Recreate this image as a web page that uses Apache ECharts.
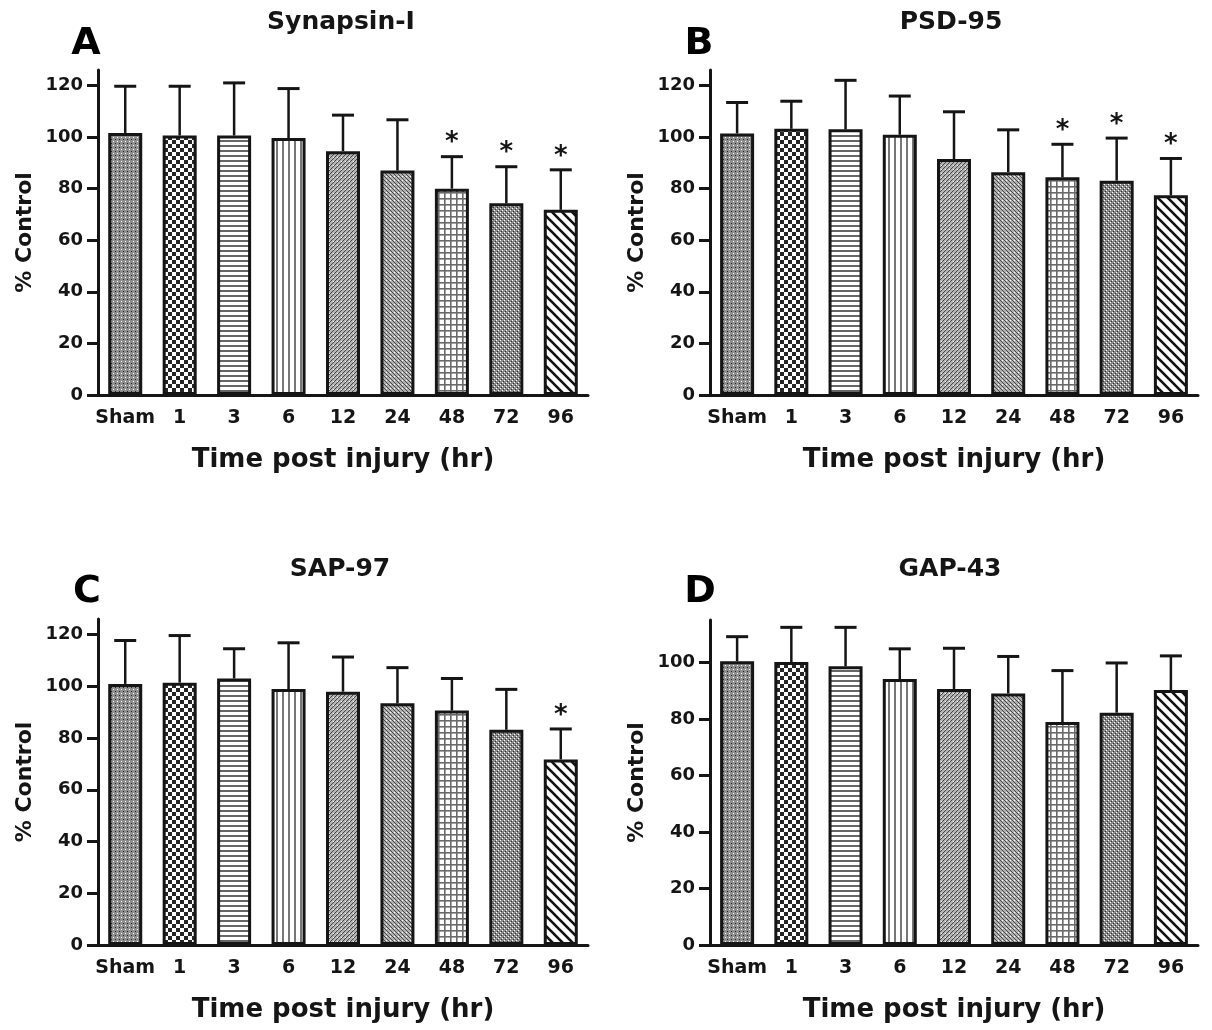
<!DOCTYPE html>
<html>
<head>
<meta charset="utf-8">
<script src="https://cdn.jsdelivr.net/npm/echarts@6/dist/echarts.min.js"></script>
<style>
  html, body { margin: 0; padding: 0; background: #fff; }
  #chart { width: 1212px; height: 1030px; }
</style>
</head>
<body>
<div id="chart"></div>
<script>
// categories (hours after injury)
const categories = ['Sham', '1', '3', '6', '12', '24', '48', '72', '96'];

// % control, mean and upper error (+SD)
const synapsinMean = [101.6, 100.6, 100.6, 99.6, 94.5, 87.0, 80.0, 74.3, 71.8];
const synapsinErr = [18.1, 19.1, 20.4, 19.2, 14.0, 19.7, 12.4, 14.2, 15.5];
const synapsinStar = [0, 0, 0, 0, 0, 0, 1, 1, 1];

const psdMean = [101.4, 103.2, 103.0, 100.9, 91.5, 86.4, 84.4, 83.1, 77.4];
const psdErr = [12.0, 10.7, 19.0, 15.0, 18.3, 16.4, 12.8, 16.5, 14.3];
const psdStar = [0, 0, 0, 0, 0, 0, 1, 1, 1];

const sapMean = [100.9, 101.4, 103.0, 98.9, 97.9, 93.4, 90.6, 83.2, 71.7];
const sapErr = [16.8, 18.2, 11.5, 17.9, 13.4, 13.8, 12.4, 15.6, 11.8];
const sapStar = [0, 0, 0, 0, 0, 0, 0, 0, 1];

const gapMean = [100.4, 100.1, 98.6, 94.1, 90.6, 89.0, 78.9, 82.2, 90.2];
const gapErr = [8.7, 12.3, 13.8, 10.7, 14.4, 13.1, 18.2, 17.6, 12.1];
const gapStar = [0, 0, 0, 0, 0, 0, 0, 0, 0];

const ticksTo120 = [0, 20, 40, 60, 80, 100, 120];
const ticksTo100 = [0, 20, 40, 60, 80, 100];

const FONT = 'DejaVu Sans';
const INK = '#151515';

// fill patterns, one per time point
function tile(w, h, draw) {
    const c = document.createElement('canvas');
    c.width = w;
    c.height = h;
    draw(c.getContext('2d'));
    return { image: c, repeat: 'repeat' };
}

const patterns = [
    tile(4, 4, (g) => { // sham: dense grey dots
        g.fillStyle = '#8e8e8e'; g.fillRect(0, 0, 4, 4);
        g.fillStyle = '#ffffff'; g.fillRect(1, 1, 1, 1);
        g.fillStyle = '#222'; g.fillRect(3, 3, 1, 1);
    }),
    tile(8, 8, (g) => { // checkerboard
        g.fillStyle = '#fff'; g.fillRect(0, 0, 8, 8);
        g.fillStyle = '#262626'; g.fillRect(0, 0, 4, 4); g.fillRect(4, 4, 4, 4);
    }),
    tile(5, 5, (g) => { // horizontal lines
        g.fillStyle = '#fff'; g.fillRect(0, 0, 5, 5);
        g.fillStyle = '#666'; g.fillRect(0, 0, 5, 2);
    }),
    tile(6, 6, (g) => { // vertical lines
        g.fillStyle = '#fff'; g.fillRect(0, 0, 6, 6);
        g.fillStyle = '#777'; g.fillRect(0, 0, 2, 6);
    }),
    tile(4, 4, (g) => { // fine "/" hatch
        g.fillStyle = '#b4b4b4'; g.fillRect(0, 0, 4, 4);
        g.fillStyle = '#444';
        for (let i = 0; i < 4; i++) g.fillRect(i, 3 - i, 1, 1);
        g.fillStyle = '#fff'; g.fillRect(1, 1, 1, 1);
    }),
    tile(4, 4, (g) => { // fine "\" hatch
        g.fillStyle = '#b0b0b0'; g.fillRect(0, 0, 4, 4);
        g.fillStyle = '#444';
        for (let i = 0; i < 4; i++) g.fillRect(i, i, 1, 1);
        g.fillStyle = '#fff'; g.fillRect(2, 0, 1, 1);
    }),
    tile(6, 6, (g) => { // grid
        g.fillStyle = '#fff'; g.fillRect(0, 0, 6, 6);
        g.fillStyle = '#6a6a6a'; g.fillRect(0, 0, 6, 1.6); g.fillRect(0, 0, 1.6, 6);
    }),
    tile(4, 4, (g) => { // mottled crosshatch
        g.fillStyle = '#8a8a8a'; g.fillRect(0, 0, 4, 4);
        g.fillStyle = '#fff'; g.fillRect(0, 0, 1, 1); g.fillRect(2, 2, 1, 1);
        g.fillStyle = '#333'; g.fillRect(1, 3, 1, 1); g.fillRect(3, 1, 1, 1);
    }),
    tile(10, 10, (g) => { // wide "\" stripes
        g.fillStyle = '#fff'; g.fillRect(0, 0, 10, 10);
        g.strokeStyle = '#111'; g.lineWidth = 2.6;
        [-10, 0, 10].forEach((d) => {
            g.beginPath(); g.moveTo(d - 2, -2); g.lineTo(d + 12, 12); g.stroke();
        });
    })
];

const panels = [
    { name: 'Synapsin-I', letter: 'A', mean: synapsinMean, err: synapsinErr, star: synapsinStar,
      grid: { left: 98, top: 70, width: 490, height: 325 }, max: 126, ticks: ticksTo120,
      title: [341, 22], tag: [86, 44] },
    { name: 'PSD-95', letter: 'B', mean: psdMean, err: psdErr, star: psdStar,
      grid: { left: 710, top: 70, width: 488, height: 325 }, max: 126, ticks: ticksTo120,
      title: [951, 22], tag: [699, 44] },
    { name: 'SAP-97', letter: 'C', mean: sapMean, err: sapErr, star: sapStar,
      grid: { left: 98, top: 619, width: 490, height: 326 }, max: 126, ticks: ticksTo120,
      title: [340, 569], tag: [87, 592] },
    { name: 'GAP-43', letter: 'D', mean: gapMean, err: gapErr, star: gapStar,
      grid: { left: 710, top: 620, width: 488, height: 325 }, max: 115, ticks: ticksTo100,
      title: [950, 569], tag: [700, 592] }
];

// upper error bar with cap, plus a star when significant
function renderError(params, api) {
    const i = api.value(0);
    const mean = api.value(1);
    const err = api.value(2);
    const base = api.coord([i, mean]);
    const top = api.coord([i, mean + err]);
    const half = 11;
    const children = [
        { type: 'line', shape: { x1: base[0], y1: base[1], x2: top[0], y2: top[1] },
          style: { stroke: INK, lineWidth: 2.5 } },
        { type: 'line', shape: { x1: top[0] - half, y1: top[1], x2: top[0] + half, y2: top[1] },
          style: { stroke: INK, lineWidth: 3 } }
    ];
    if (api.value(3)) {
        children.push({
            type: 'text', x: top[0], y: top[1] - 13,
            style: { text: '*', fill: INK, fontSize: 26, fontWeight: 'bold', fontFamily: FONT,
                     align: 'center', verticalAlign: 'middle' }
        });
    }
    return { type: 'group', children };
}

const boldText = (size) => ({ fontFamily: FONT, fontWeight: 'bold', fontSize: size, color: INK });

const option = {
    backgroundColor: '#fff',
    animation: false,
    grid: panels.map((p) => p.grid),
    xAxis: panels.map((p, k) => ({
        type: 'category',
        gridIndex: k,
        data: categories,
        name: 'Time post injury (hr)',
        nameLocation: 'middle',
        nameGap: 52,
        nameTextStyle: boldText(26),
        axisLine: { lineStyle: { color: INK, width: 3 } },
        axisTick: { alignWithLabel: true, length: 9, lineStyle: { color: INK, width: 3 } },
        axisLabel: { interval: 0, margin: 14, ...boldText(19) }
    })),
    yAxis: panels.map((p, k) => ({
        type: 'value',
        gridIndex: k,
        min: 0,
        max: p.max,
        interval: 20,
        name: '% Control',
        nameLocation: 'middle',
        nameGap: 62,
        nameTextStyle: boldText(22),
        axisLine: { show: true, lineStyle: { color: INK, width: 3 } },
        axisTick: { show: true, length: 11, customValues: p.ticks, lineStyle: { color: INK, width: 3 } },
        axisLabel: { margin: 15, customValues: p.ticks, ...boldText(18) },
        splitLine: { show: false }
    })),
    series: panels.flatMap((p, k) => [
        {
            type: 'bar',
            xAxisIndex: k,
            yAxisIndex: k,
            barWidth: 34,
            data: p.mean.map((v, i) => ({
                value: v,
                itemStyle: { color: patterns[i], borderColor: INK, borderWidth: 3 }
            }))
        },
        {
            type: 'custom',
            xAxisIndex: k,
            yAxisIndex: k,
            renderItem: renderError,
            z: 3,
            data: p.mean.map((v, i) => [i, v, p.err[i], p.star[i]])
        }
    ]),
    graphic: panels.flatMap((p) => [
        { type: 'text', x: p.title[0], y: p.title[1],
          style: { text: p.name, fill: INK, font: `bold 25px "${FONT}"`, align: 'center', verticalAlign: 'middle' } },
        { type: 'text', x: p.tag[0], y: p.tag[1],
          style: { text: p.letter, fill: '#000', font: `bold 38px "${FONT}"`, align: 'center', verticalAlign: 'middle' } }
    ])
};

const myChart = echarts.init(document.getElementById('chart'));
myChart.setOption(option);
</script>
</body>
</html>
